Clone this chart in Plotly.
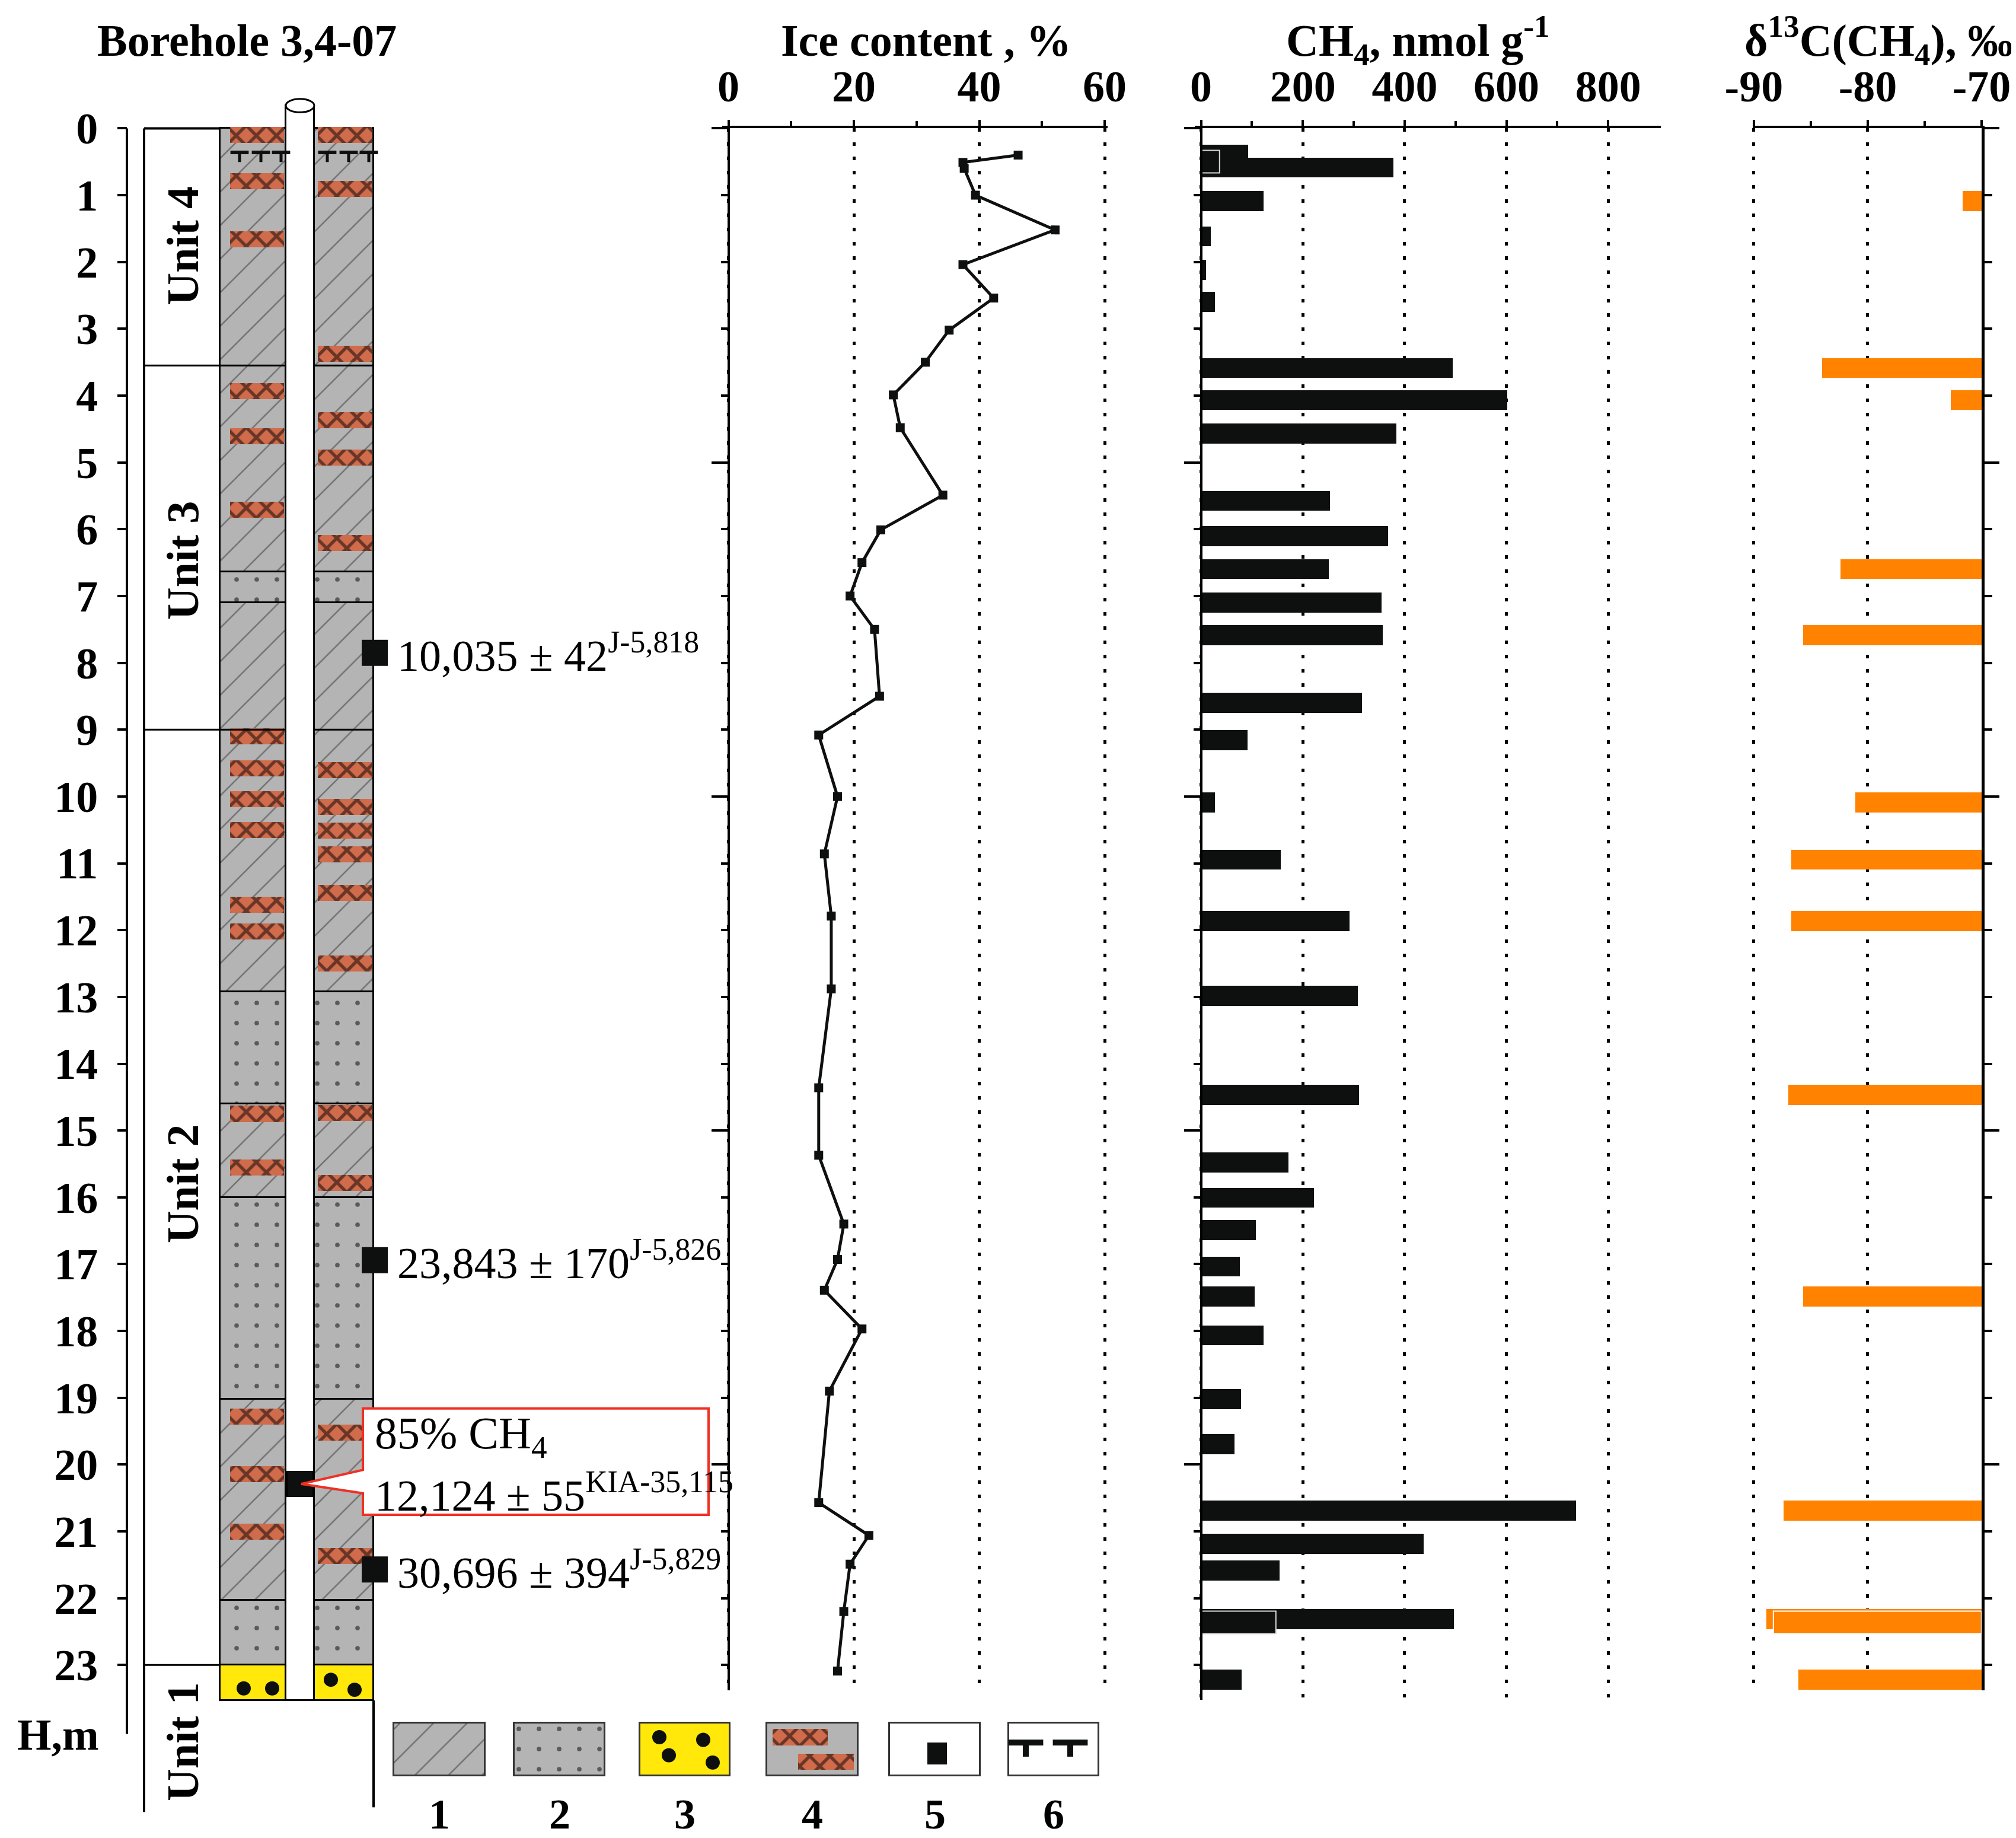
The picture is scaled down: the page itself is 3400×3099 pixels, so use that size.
import plotly.graph_objects as go

# ── values ────────────────────────────────────────────────────────────────────
ice_depth = [0.40, 0.51, 0.60, 1.00, 1.52, 2.04, 2.54, 3.02, 3.50, 3.99, 4.48,
             5.49, 6.01, 6.50, 7.00, 7.50, 8.50, 9.08, 10.00, 10.86, 11.79,
             12.88, 14.36, 15.37, 16.40, 16.93, 17.39, 17.97, 18.90, 20.57,
             21.06, 21.49, 22.20, 23.09]
ice_pct = [46.2, 37.4, 37.6, 39.4, 52.1, 37.4, 42.3, 35.2, 31.4, 26.3, 27.4,
           34.2, 24.3, 21.3, 19.4, 23.3, 24.1, 14.4, 17.4, 15.3, 16.4,
           16.4, 14.4, 14.4, 18.4, 17.4, 15.3, 21.3, 16.1, 14.4,
           22.4, 19.4, 18.4, 17.4]

ch4_depth = [0.40, 0.59, 1.09, 1.62, 2.12, 2.60, 3.59, 4.07, 4.57, 5.58, 6.11,
             6.60, 7.10, 7.59, 8.60, 9.16, 10.09, 10.95, 11.87, 12.99, 14.47,
             15.48, 16.01, 16.49, 17.04, 17.49, 18.07, 19.02, 19.70, 20.69,
             21.19, 21.59, 22.32, 23.22]
ch4_nmol = [92, 378, 123, 19, 10, 27, 494, 601, 384, 253, 367,
            251, 354, 357, 316, 91, 27, 157, 292, 308, 310,
            172, 222, 108, 76, 105, 123, 78, 65, 737,
            437, 154, 496, 80]
# duplicate measurements drawn as outlined boxes over the bars
ch4_dup_depth = [0.50, 22.36]
ch4_dup_nmol = [36, 147]

d13c_depth = [1.09, 3.59, 4.07, 6.60, 7.59, 10.09, 10.95, 11.87, 14.47, 17.49,
              20.69, 22.32, 23.22]
d13c_permil = [-71.7, -84.0, -72.7, -82.4, -85.7, -81.1, -86.7, -86.7, -87.0,
               -85.7, -87.4, -88.9, -86.1]
d13c_dup_depth = [22.36]
d13c_dup_permil = [-88.3]

# lithology: 1 silt, 2 sand, 3 pebbles
layer_top = [0.0, 6.64, 7.10, 12.92, 14.60, 16.00, 19.02, 22.03, 23.00]
layer_bot = [6.64, 7.10, 12.92, 14.60, 16.00, 19.02, 22.03, 23.00, 23.53]
layer_kind = [1, 2, 1, 2, 1, 2, 1, 2, 3]

# ice lenses (centre depth) in the left and right half of the column
lens_left = [0.10, 0.79, 1.66, 3.93, 4.61, 5.71, 9.10, 9.58, 10.04, 10.50,
             11.62, 12.02, 14.75, 15.55, 19.28, 20.14, 21.00]
lens_right = [0.10, 0.91, 3.37, 4.37, 4.93, 6.21, 9.61, 10.16, 10.51, 10.87,
              11.44, 12.50, 14.74, 15.78, 19.52, 21.37]

unit_names = ['Unit 4', 'Unit 3', 'Unit 2', 'Unit 1']
unit_bounds = [3.55, 9.00]
unit_label_depth = [1.76, 6.47, 15.80, 24.15]

date_depth = [7.85, 16.94, 21.57]
date_text = ['10,035 ± 42<sup>J-5,818</sup>',
             '23,843 ± 170<sup>J-5,826</sup>',
             '30,696 ± 394<sup>J-5,829</sup>']

gas_top, gas_bot = 20.10, 20.48
gas_text = ['85% CH<sub>4</sub>', '12,124 ± 55<sup>KIA-35,115</sup>']
frost_depth = 0.36

legend_labels = ['1', '2', '3', '4', '5', '6']

# ── page geometry (pixels of the 3400 x 3099 page) ────────────────────────────
W, H = 3400, 3099
Y0, PPM = 208.4, 112.65          # pixel row of depth 0, pixels per metre


def yp(d):
    return 1 - (Y0 + PPM * d) / H


def xp(x):
    return x / W


AXIS_X, UNIT_X = 206, 235
COL_L, PIPE, COL_R = (363, 474), (474, 522), (522, 622)
LENS_L, LENS_R = (380, 471), (528, 619)
PIPE_TOP, COL_BOT = -0.34, 23.53
LEG_X = [(656, 810), (859, 1012), (1071, 1223), (1285, 1439), (1492, 1645), (1693, 1845)]
LEG_TOP, LEG_BOT = 23.87, 24.66

GREY = '#b3b4b3'
SALMON = '#d06b4c'
YELLOW = '#ffe80a'
ORANGE = '#ff8200'
INK = '#0e1010'
RED = '#ee3124'
FONT = 'Liberation Serif, DejaVu Serif, serif'

fig = go.Figure()


def mid(a):
    return (a[0] + a[1]) / 2


def span(a):
    return a[1] - a[0]


# ── lithology column ──────────────────────────────────────────────────────────
patterns = {1: dict(shape='/', size=40, solidity=0.06, fgcolor='#2a2a2a'),
            2: dict(shape='.', size=34, solidity=0.04, fgcolor='black')}
for kind in (1, 2):
    tops = [t for t, k in zip(layer_top, layer_kind) if k == kind]
    thick = [b - t for t, b, k in zip(layer_top, layer_bot, layer_kind) if k == kind]
    n = len(tops)
    fig.add_trace(go.Bar(
        x=[mid(COL_L)] * n + [mid(COL_R)] * n, y=thick * 2, base=tops * 2,
        width=[span(COL_L)] * n + [span(COL_R)] * n,
        marker=dict(color=GREY, line=dict(color='black', width=3),
                    pattern=dict(bgcolor=GREY, **patterns[kind])),
        xaxis='x', yaxis='y'))

tops = [t for t, k in zip(layer_top, layer_kind) if k == 3]
thick = [b - t for t, b, k in zip(layer_top, layer_bot, layer_kind) if k == 3]
fig.add_trace(go.Bar(
    x=[mid(COL_L)] * len(tops) + [mid(COL_R)] * len(tops), y=thick * 2, base=tops * 2,
    width=[span(COL_L)] * len(tops) + [span(COL_R)] * len(tops),
    marker=dict(color=YELLOW, line=dict(color='black', width=3)),
    xaxis='x', yaxis='y'))

LENS_T = 0.24
lens_pattern = dict(shape='x', fgcolor='black', bgcolor=SALMON, size=24, solidity=0.4)
fig.add_trace(go.Bar(
    x=[mid(LENS_L)] * len(lens_left) + [mid(LENS_R)] * len(lens_right),
    y=[LENS_T] * (len(lens_left) + len(lens_right)),
    base=[d - LENS_T / 2 for d in lens_left + lens_right],
    width=[span(LENS_L)] * len(lens_left) + [span(LENS_R)] * len(lens_right),
    marker=dict(color=SALMON, line=dict(width=0), pattern=lens_pattern),
    xaxis='x', yaxis='y'))

# borehole pipe and gas sample
fig.add_trace(go.Bar(x=[mid(PIPE)], y=[COL_BOT - PIPE_TOP], base=[PIPE_TOP], width=[span(PIPE)],
                     marker=dict(color='white', line=dict(color='black', width=3)),
                     xaxis='x', yaxis='y'))
fig.add_trace(go.Bar(x=[mid(PIPE)], y=[gas_bot - gas_top], base=[gas_top], width=[span(PIPE) - 4],
                     marker=dict(color=INK, line=dict(color='black', width=2)),
                     xaxis='x', yaxis='y'))

# frost cracks (T symbols) and pebbles
frost_x = [396, 432, 466, 544, 580, 614]
fig.add_trace(go.Scatter(x=frost_x, y=[frost_depth] * len(frost_x), mode='markers',
                         marker=dict(symbol='line-ew', size=22, line=dict(color=INK, width=6)),
                         xaxis='x', yaxis='y'))
fig.add_trace(go.Scatter(x=frost_x, y=[frost_depth + 0.07] * len(frost_x), mode='markers',
                         marker=dict(symbol='line-ns', size=12, line=dict(color=INK, width=5)),
                         xaxis='x', yaxis='y'))
pebble_x = [403, 451, 550, 590]
pebble_d = [23.35, 23.35, 23.22, 23.37]
fig.add_trace(go.Scatter(x=pebble_x, y=pebble_d, mode='markers',
                         marker=dict(symbol='circle', size=24, color=INK),
                         xaxis='x', yaxis='y'))

# radiocarbon samples
fig.add_trace(go.Scatter(x=[COL_R[1] + 2] * len(date_depth), y=date_depth, mode='markers',
                         marker=dict(symbol='square', size=44, color=INK),
                         xaxis='x', yaxis='y'))

# ── legend boxes ──────────────────────────────────────────────────────────────
leg_fill = [GREY, GREY, YELLOW, GREY, 'white', 'white']
for i, (a, b) in enumerate(LEG_X):
    pat = patterns.get(i + 1)
    mk = dict(color=leg_fill[i], line=dict(color='#333333', width=3))
    if pat:
        mk['pattern'] = dict(bgcolor=GREY, **pat)
    fig.add_trace(go.Bar(x=[(a + b) / 2], y=[LEG_BOT - LEG_TOP], base=[LEG_TOP], width=[b - a],
                         marker=mk, xaxis='x', yaxis='y'))
fig.add_trace(go.Bar(x=[1341, 1385], y=[0.24, 0.24], base=[23.96, 24.33], width=[93, 94],
                     marker=dict(color=SALMON, line=dict(width=0), pattern=lens_pattern),
                     xaxis='x', yaxis='y'))
fig.add_trace(go.Bar(x=[1572], y=[0.33], base=[24.16], width=[33],
                     marker=dict(color=INK, line=dict(width=0)), xaxis='x', yaxis='y'))
fig.add_trace(go.Scatter(x=[1104, 1178, 1120, 1194], y=[24.08, 24.12, 24.35, 24.46], mode='markers',
                         marker=dict(symbol='circle', size=24, color=INK), xaxis='x', yaxis='y'))
fig.add_trace(go.Scatter(x=[1722, 1797], y=[24.16, 24.16], mode='markers',
                         marker=dict(symbol='line-ew', size=42, line=dict(color=INK, width=10)),
                         xaxis='x', yaxis='y'))
fig.add_trace(go.Scatter(x=[1722, 1797], y=[24.26, 24.26], mode='markers',
                         marker=dict(symbol='line-ns', size=18, line=dict(color=INK, width=10)),
                         xaxis='x', yaxis='y'))

# ── ice content ───────────────────────────────────────────────────────────────
fig.add_trace(go.Scatter(x=ice_pct, y=ice_depth, mode='lines+markers',
                         line=dict(color=INK, width=5),
                         marker=dict(symbol='square', size=15, color=INK),
                         xaxis='x2', yaxis='y2'))

# ── CH4 ───────────────────────────────────────────────────────────────────────
BAR_T = 0.30
fig.add_trace(go.Bar(orientation='h', x=ch4_nmol, y=ch4_depth, width=BAR_T,
                     marker=dict(color=INK, line=dict(width=0)), xaxis='x3', yaxis='y3'))
fig.add_trace(go.Bar(orientation='h', x=ch4_dup_nmol, y=ch4_dup_depth, width=0.34,
                     marker=dict(color=INK, line=dict(color='#d8d8d8', width=2)),
                     xaxis='x3', yaxis='y3'))

# ── delta 13C ─────────────────────────────────────────────────────────────────
fig.add_trace(go.Bar(orientation='h', x=[v + 70 for v in d13c_permil], base=-70, y=d13c_depth,
                     width=BAR_T, marker=dict(color=ORANGE, line=dict(width=0)),
                     xaxis='x4', yaxis='y4'))
fig.add_trace(go.Bar(orientation='h', x=[v + 70 for v in d13c_dup_permil], base=-70, y=d13c_dup_depth,
                     width=0.34, marker=dict(color=ORANGE, line=dict(color='white', width=2)),
                     xaxis='x4', yaxis='y4'))

# ── lines of the column drawing ───────────────────────────────────────────────
shapes = []


def seg(x0, y0, x1, y1, w=4):
    shapes.append(dict(type='line', xref='x', yref='y', x0=x0, y0=y0, x1=x1, y1=y1,
                       line=dict(color='black', width=w), layer='above'))


seg(AXIS_X, 0, AXIS_X, 24.03)
seg(UNIT_X, 0, UNIT_X, 25.20)
seg(UNIT_X, 0, COL_L[0], 0)
seg(COL_R[1], COL_BOT, COL_R[1], 25.13)
for d in unit_bounds:
    seg(UNIT_X, d, COL_L[1], d, 3)
    seg(COL_R[0], d, COL_R[1], d, 3)
seg(UNIT_X, 23.0, COL_L[0], 23.0, 3)
shapes.append(dict(type='circle', xref='x', yref='y', x0=PIPE[0], x1=PIPE[1],
                   y0=PIPE_TOP - 0.1, y1=PIPE_TOP + 0.1, fillcolor='white',
                   line=dict(color='black', width=3), layer='above'))
shapes.append(dict(type='path', xref='x', yref='y', layer='above', fillcolor='white',
                   line=dict(color=RED, width=4),
                   path='M 604,19.16 L 1187,19.16 L 1187,20.75 L 604,20.75 '
                        'L 604,20.43 L 500,20.29 L 604,20.08 Z'))

# ── texts ─────────────────────────────────────────────────────────────────────
ann = []


def text(x, y, s, size=70, bold=True, xanchor='center', angle=0, xref='paper', yref='paper'):
    ann.append(dict(x=x, y=y, xref=xref, yref=yref, text=s, showarrow=False,
                    xanchor=xanchor, yanchor='middle', textangle=angle,
                    font=dict(family=FONT, size=size, color='black',
                              weight='bold' if bold else 'normal')))


text(xp(408), 1 - 60 / H, 'Borehole 3,4-07', 76)
text(xp(1554), 1 - 60 / H, 'Ice content , %', 76)
text(xp(2383), 1 - 60 / H, 'CH<sub>4</sub>, nmol g<sup>-1</sup>', 76)
text(xp(3160), 1 - 60 / H, 'δ<sup>13</sup>C(CH<sub>4</sub>), ‰', 76)
text(xp(90), 1 - 2917 / H, 'H,m', 74)
for name, d in zip(unit_names, unit_label_depth):
    text(300, d, name, 76, angle=-90, xref='x', yref='y')
for s, d in zip(date_text, date_depth):
    text(660, d, s, 74, bold=False, xanchor='left', xref='x', yref='y')
text(622, 19.58, gas_text[0], 76, bold=False, xanchor='left', xref='x', yref='y')
text(622, 20.42, gas_text[1], 74, bold=False, xanchor='left', xref='x', yref='y')
for s, (a, b) in zip(legend_labels, LEG_X):
    text((a + b) / 2, 25.23, s, 72, xref='x', yref='y')

# ── axes ──────────────────────────────────────────────────────────────────────
tick_font = dict(family=FONT, size=74, color='black', weight='bold')


def top_axis(lo, hi, rng, vals, minor, anchor, labels=None):
    ax = dict(domain=[xp(lo), xp(hi)], range=rng, side='top', anchor=anchor,
              automargin=False,
              showline=True, linewidth=4, linecolor='black',
              ticks='outside', ticklen=10, tickwidth=4, tickcolor='black',
              tickvals=vals, tickfont=tick_font, ticklabelstandoff=2,
              showgrid=True, gridcolor='black', gridwidth=5, griddash='6px,18px',
              zeroline=False,
              minor=dict(tickvals=minor, ticks='outside', ticklen=8, tickwidth=4,
                         tickcolor='black', showgrid=False))
    if labels:
        ax['ticktext'] = labels
    return ax


def depth_axis(bottom, **kw):
    ax = dict(domain=[yp(bottom), yp(0)], range=[bottom, 0], showline=True,
              automargin=False,
              linecolor='black', linewidth=4, ticks='outside', ticklen=27, tickwidth=4,
              tickcolor='black', tickvals=[0, 5, 10, 15, 20], showticklabels=False,
              showgrid=False, zeroline=False,
              minor=dict(tickvals=list(range(24)), ticks='outside', ticklen=11,
                         tickwidth=4, tickcolor='black', showgrid=False))
    ax.update(kw)
    return ax


ICE0, ICE_PX = 1220.5, 10.575
CH0, CH_PX = 2017.5, 0.8585
fig.update_layout(
    width=W, height=H, margin=dict(l=0, r=0, t=0, b=0, pad=0, autoexpand=False),
    paper_bgcolor='white', plot_bgcolor='rgba(0,0,0,0)',
    showlegend=False, barmode='overlay', bargap=0,
    font=dict(family=FONT, color='black'),
    xaxis=dict(domain=[0, 1], range=[0, W], visible=False, automargin=False),
    yaxis=dict(domain=[0, 1], range=[(H - Y0) / PPM, -Y0 / PPM], anchor='free',
               position=xp(AXIS_X), automargin=False,
               showline=False, showgrid=False, zeroline=False,
               ticks='outside', ticklen=16, tickwidth=4, tickcolor='black',
               tickvals=list(range(24)), tickfont=dict(family=FONT, size=74, color='black',
                                                       weight='bold'),
               ticklabelstandoff=18),
    xaxis2=top_axis(1209.7, 1860.4, [(1209.7 - ICE0) / ICE_PX, (1860.4 - ICE0) / ICE_PX],
                    [0, 20, 40, 60], [10, 30, 50], 'y2'),
    yaxis2=depth_axis(23.38, anchor='free', position=xp(ICE0)),
    xaxis3=top_axis(2006.8, 2793, [(2006.8 - CH0) / CH_PX, (2793 - CH0) / CH_PX],
                    [0, 200, 400, 600, 800], [100, 300, 500, 700], 'y3'),
    yaxis3=depth_axis(23.52, anchor='free', position=xp(CH0)),
    xaxis4=top_axis(2947.8, 3334, [-90.11, -70], [-90, -80, -70], [-85, -75], 'y4',
                    labels=['-90', '-80', '-70']),
    yaxis4=depth_axis(23.38, anchor='x4', side='right', linewidth=5, ticklen=25,
                      minor=dict(tickvals=list(range(24)), ticks='outside', ticklen=13,
                                 tickwidth=4, tickcolor='black', showgrid=False)),
    shapes=shapes, annotations=ann,
)

fig.write_html("out.html")
